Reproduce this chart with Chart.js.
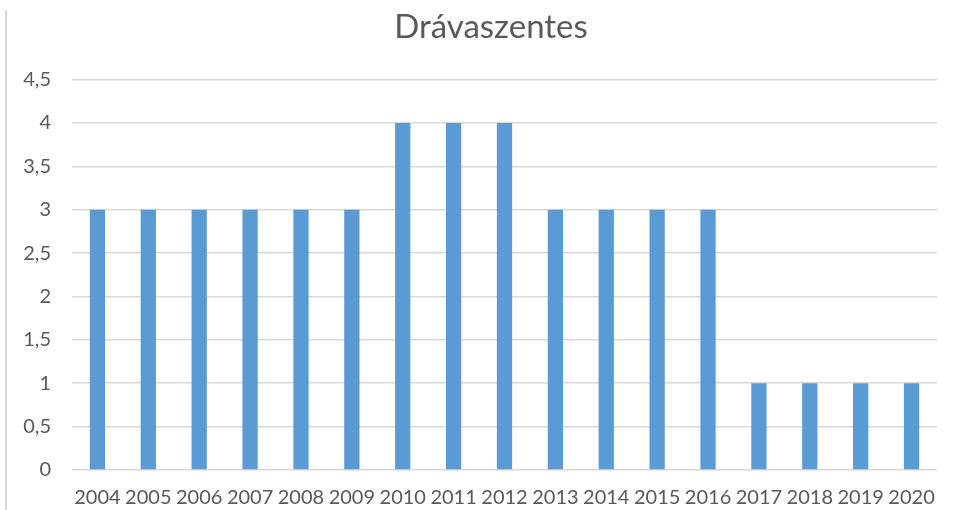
<!DOCTYPE html>
<html lang="hu">
  <head>
    <meta charset="UTF-8" />
    <title>Drávaszentes</title>
    <style>
      * {
        box-sizing: border-box;
        margin: 0;
        padding: 0;
      }
      html,
      body {
        width: 955px;
        height: 510px;
        background: white;
        overflow: hidden;
      }
      .frame {
        position: absolute;
        left: 5px;
        top: 10px;
        bottom: 0;
        border-left: 2px solid #d9d9d9;
      }
      .chart-box {
        position: absolute;
        left: 0;
        top: 0;
        width: 955px;
        height: 510px;
      }
    </style>
  </head>
  <body>
    <div class="frame"></div>
    <div class="chart-box">
      <canvas id="chart"></canvas>
    </div>
    <script src="https://cdn.jsdelivr.net/npm/chart.js"></script>
    <script>
      const years = [
        "2004", "2005", "2006", "2007", "2008", "2009", "2010", "2011", "2012",
        "2013", "2014", "2015", "2016", "2017", "2018", "2019", "2020",
      ];
      const values = [3, 3, 3, 3, 3, 3, 4, 4, 4, 3, 3, 3, 3, 1, 1, 1, 1];
      const yTicks = [0, 0.5, 1, 1.5, 2, 2.5, 3, 3.5, 4, 4.5];

      const textColor = "#595959";
      const gridColor = "#d9d9d9";

      // title in the original sits a bit right of the canvas centre
      const shiftTitle = {
        id: "shiftTitle",
        afterLayout(chart) {
          if (chart.titleBlock) chart.titleBlock.left += 45;
        },
      };

      new Chart(document.getElementById("chart"), {
        type: "bar",
        data: {
          labels: years,
          datasets: [
            {
              data: values,
              backgroundColor: "#5b9bd5",
              categoryPercentage: 1,
              barPercentage: 0.3,
            },
          ],
        },
        options: {
          responsive: true,
          maintainAspectRatio: false,
          animation: false,
          layout: { padding: { top: 5, right: 18, bottom: 0, left: 0 } },
          plugins: {
            legend: { display: false },
            tooltip: { enabled: false },
            title: {
              display: true,
              text: "Drávaszentes",
              color: textColor,
              font: { family: "Lato", size: 33, weight: "normal" },
              padding: { top: 3, bottom: 32 },
            },
          },
          scales: {
            x: {
              grid: { display: false, drawTicks: false },
              border: { display: false },
              ticks: {
                color: textColor,
                font: { family: "Lato", size: 20 },
                padding: 16,
                maxRotation: 0,
                autoSkip: false,
              },
              afterFit: (scale) => {
                scale.height = 40;
              },
            },
            y: {
              min: 0,
              max: 4.5,
              grid: { color: gridColor, lineWidth: 1.5, drawTicks: false },
              border: { display: false },
              afterBuildTicks: (scale) => {
                scale.ticks = yTicks.map((v) => ({ value: v }));
              },
              ticks: {
                color: textColor,
                font: { family: "Lato", size: 20 },
                padding: 21,
                callback: (v) => String(v).replace(".", ","),
              },
              afterFit: (scale) => {
                scale.width = 72;
              },
            },
          },
        },
        plugins: [shiftTitle],
      });
    </script>
  </body>
</html>
